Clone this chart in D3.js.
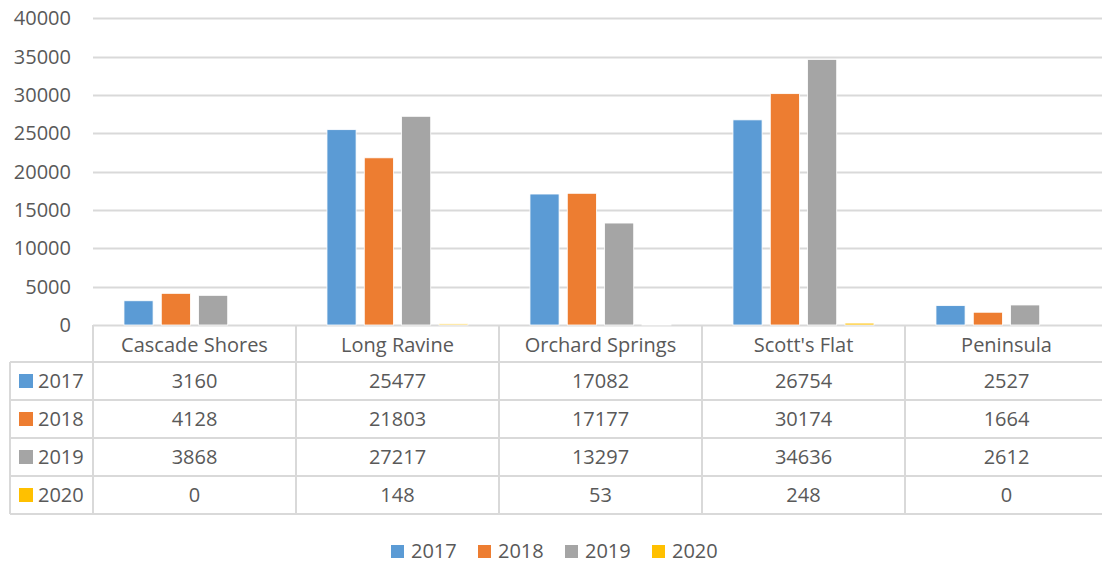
<!DOCTYPE html>
<html><head><meta charset="utf-8">
<script src="https://cdnjs.cloudflare.com/ajax/libs/d3/7.8.5/d3.min.js"></script>
<style>
html,body{margin:0;padding:0;background:#fff;overflow:hidden;}
svg{display:block;font-family:"Open Sans",sans-serif;}
</style></head>
<body><svg id="c" width="1102" height="563"></svg>
<script>
const categories = ["Cascade Shores", "Long Ravine", "Orchard Springs", "Scott's Flat", "Peninsula"];
const seriesNames = ["2017", "2018", "2019", "2020"];
const v2017 = [3160, 25477, 17082, 26754, 2527];
const v2018 = [4128, 21803, 17177, 30174, 1664];
const v2019 = [3868, 27217, 13297, 34636, 2612];
const v2020 = [0, 148, 53, 248, 0];
const yTicks = [0, 5000, 10000, 15000, 20000, 25000, 30000, 35000, 40000];
const colors = ["#5b9bd5", "#ed7d31", "#a5a5a5", "#ffc000"];

const series = [v2017, v2018, v2019, v2020];
const svg = d3.select("#c");
const textColor = "#595959";
const lineColor = "#d9d9d9";
const fs = 20;

const x = d3.scaleBand().domain(categories).range([93, 1108]).paddingInner(0).paddingOuter(0);
const y = d3.scaleLinear().domain([0, 40000]).range([325, 18.3]);
const xs = d3.scaleBand().domain(seriesNames).range([0, x.bandwidth()]).paddingInner(0.22).paddingOuter(0.83);

// gridlines
svg.append("g").selectAll("line").data(yTicks).join("line")
  .attr("x1", 93).attr("x2", 1108)
  .attr("y1", d => Math.round(y(d)) + 0.5).attr("y2", d => Math.round(y(d)) + 0.5)
  .attr("stroke", lineColor).attr("stroke-width", 2);

// y labels
svg.append("g").selectAll("text").data(yTicks).join("text")
  .attr("x", 71).attr("y", d => y(d)).attr("dy", "0.35em")
  .attr("text-anchor", "end").attr("fill", textColor).attr("font-size", fs)
  .text(d => d);

// bars
series.forEach((vals, si) => {
  svg.append("g").selectAll("rect").data(vals).join("rect")
    .attr("x", (d, i) => x(categories[i]) + xs(seriesNames[si]))
    .attr("width", xs.bandwidth())
    .attr("y", d => y(d))
    .attr("height", d => y(0) - y(d))
    .attr("fill", colors[si])
    .attr("stroke", "#fff").attr("stroke-width", 0.8);
});

// table
const rowTop = 325, headH = 37, rowH = 38, leftX = 10;
const tbl = svg.append("g");
// header vertical lines
categories.forEach(c => {
  tbl.append("line").attr("x1", x(c)).attr("x2", x(c))
    .attr("y1", rowTop).attr("y2", rowTop + headH + rowH * 4)
    .attr("stroke", lineColor).attr("stroke-width", 2);
});
tbl.append("line").attr("x1", 1107).attr("x2", 1107)
  .attr("y1", rowTop).attr("y2", rowTop + headH + rowH * 4)
  .attr("stroke", lineColor).attr("stroke-width", 2);
// left border
tbl.append("line").attr("x1", leftX).attr("x2", leftX)
  .attr("y1", rowTop + headH).attr("y2", rowTop + headH + rowH * 4)
  .attr("stroke", lineColor).attr("stroke-width", 2);
// horizontal lines
for (let r = 0; r <= 4; r++) {
  const yy = rowTop + headH + rowH * r;
  tbl.append("line").attr("x1", leftX).attr("x2", 1108)
    .attr("y1", yy).attr("y2", yy)
    .attr("stroke", lineColor).attr("stroke-width", 2);
}
// header text
tbl.selectAll("text.h").data(categories).join("text").attr("class", "h")
  .attr("x", d => x(d) + x.bandwidth() / 2).attr("y", rowTop + headH / 2 + 1).attr("dy", "0.35em")
  .attr("text-anchor", "middle").attr("fill", textColor).attr("font-size", fs)
  .text(d => d);
// rows
series.forEach((vals, si) => {
  const cy = rowTop + headH + rowH * si + rowH / 2;
  tbl.append("rect").attr("x", 19).attr("y", cy - 7).attr("width", 14).attr("height", 14).attr("fill", colors[si]);
  tbl.append("text").attr("x", 38).attr("y", cy).attr("dy", "0.35em")
    .attr("fill", textColor).attr("font-size", fs).text(seriesNames[si]);
  tbl.append("g").selectAll("text").data(vals).join("text")
    .attr("x", (d, i) => x(categories[i]) + x.bandwidth() / 2).attr("y", cy).attr("dy", "0.35em")
    .attr("text-anchor", "middle").attr("fill", textColor).attr("font-size", fs)
    .text(d => d);
});

// legend
const legX = [391, 478, 565, 652];
const lg = svg.append("g");
seriesNames.forEach((s, i) => {
  lg.append("rect").attr("x", legX[i]).attr("y", 545).attr("width", 13).attr("height", 13).attr("fill", colors[i]);
  lg.append("text").attr("x", legX[i] + 20).attr("y", 551).attr("dy", "0.35em")
    .attr("fill", textColor).attr("font-size", fs).text(s);
});
</script></body></html>
